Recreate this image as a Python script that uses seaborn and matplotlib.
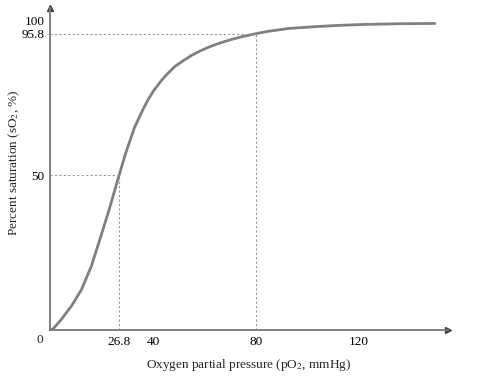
import matplotlib
matplotlib.use("Agg")
import matplotlib.pyplot as plt
import matplotlib.transforms as mtransforms
import seaborn as sns
import pandas as pd

# values
po2 = [0, 1.3, 4.4, 8.3, 12.2, 16.0, 19.3, 22.6, 26.8, 29.3, 32.8, 36.2,
       38.1, 40.1, 42.7, 45.3, 48.5, 51.8, 55.0, 58.3, 61.5, 64.7, 68.0,
       71.2, 75.5, 80, 84.3, 93, 103.7, 113, 123.1, 136, 149.5]
so2 = [0, 0.5, 3.5, 7.8, 13.1, 20.6, 29.2, 38.0, 50, 57.0, 65.5, 71.5,
       74.5, 77.2, 80.1, 82.6, 85.2, 87.1, 88.8, 90.2, 91.4, 92.4, 93.3,
       94.1, 95.0, 95.8, 96.5, 97.5, 98.1, 98.5, 98.8, 99.0, 99.1]

x_ticks = [26.8, 40, 80, 120]
x_labels = ["26.8", "40", "80", "120"]
y_ticks = [50, 95.8, 100]
y_labels = ["50", "95.8", "100"]
marked = [(26.8, 50), (80, 95.8)]

df = pd.DataFrame({"po2": po2, "so2": so2})

sns.set_style("white")
plt.rcParams["font.family"] = ["Liberation Serif", "DejaVu Serif"]
plt.rcParams["mathtext.fontset"] = "stix"

fig = plt.figure(figsize=(4.91, 3.76), dpi=100)
ax = fig.add_axes([0.102, 0.122, 0.81, 0.856])

sns.lineplot(data=df, x="po2", y="so2", color="#808080", lw=2, ax=ax)

# dotted guide lines
for xv, yv in marked:
    ax.plot([0, xv], [yv, yv], color="#999999", lw=0.8, ls=(0, (2, 2)))
    ax.plot([xv, xv], [0, yv], color="#999999", lw=0.8, ls=(0, (2, 2)))

ax.set_xlim(0, 154.5)
ax.set_ylim(0, 104)

ax.set_xticks(x_ticks)
ax.set_xticklabels(x_labels)
ax.set_yticks(y_ticks)
ax.set_yticklabels(y_labels)
ax.tick_params(length=0, labelsize=9.5, pad=4, colors="black")

# origin label
off = mtransforms.ScaledTranslation(-10 / 100, -10 / 100, fig.dpi_scale_trans)
ax.text(0, 0, "0", transform=ax.transData + off, ha="center", va="center", fontsize=9.5)

for s in ["top", "right"]:
    ax.spines[s].set_visible(False)
for s in ["left", "bottom"]:
    ax.spines[s].set_color("#777777")
    ax.spines[s].set_linewidth(1.3)

# arrow heads
ax.plot(1, 0, ">", color="#444444", markersize=5, transform=ax.transAxes, clip_on=False)
ax.plot(0, 1, "^", color="#444444", markersize=5, transform=ax.transAxes, clip_on=False)

ax.set_xlabel("Oxygen partial pressure (pO$_2$, mmHg)", fontsize=9.5)
ax.set_ylabel("Percent saturation (sO$_2$, %)", fontsize=9.5)
ax.xaxis.set_label_coords(0.5, -0.085)
ax.yaxis.set_label_coords(-0.07, 0.52)

fig.savefig("out.png", dpi=100)
